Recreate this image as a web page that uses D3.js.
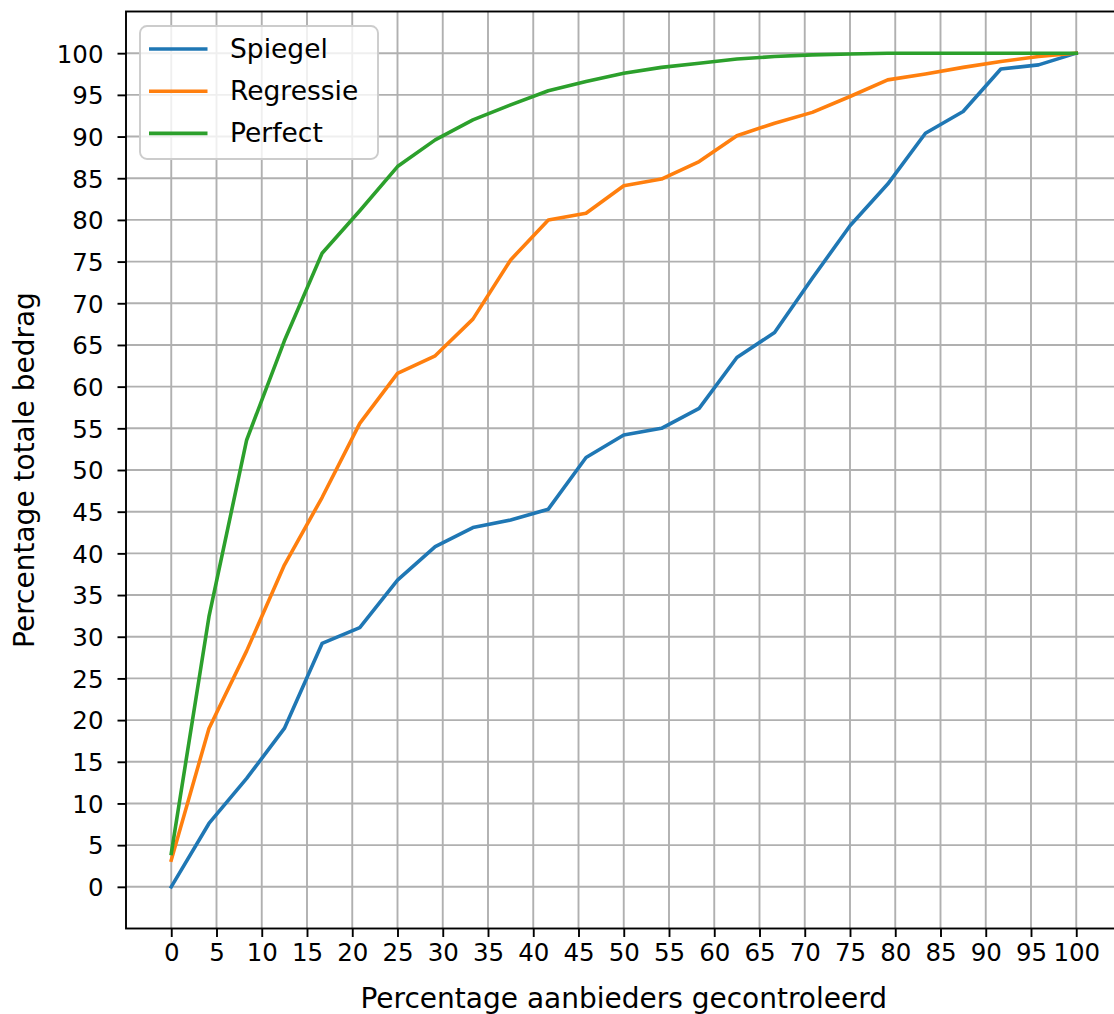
<!DOCTYPE html>
<html>
<head>
<meta charset="utf-8">
<script src="https://cdn.jsdelivr.net/npm/d3@7"></script>
<style>
  html, body { margin: 0; padding: 0; background: #fff; }
  svg { display: block; }
  text { font-family: "DejaVu Sans", sans-serif; fill: #000; }
</style>
</head>
<body>
<svg id="chart" width="1114" height="1014"></svg>
<script>
// ---- data ----
const xValues = d3.range(25).map(i => i * 100 / 24); // 25 points 0..100
const spiegel = [0, 7.6, 13.0, 19.0, 29.2, 31.1, 36.8, 40.8, 43.1, 44.0, 45.3, 51.5, 54.2, 55.0, 57.4, 63.5, 66.5, 73.0, 79.3, 84.3, 90.4, 93.0, 98.1, 98.6, 100];
const regressie = [3.2, 19.0, 28.3, 38.6, 46.7, 55.6, 61.6, 63.7, 68.1, 75.2, 80.0, 80.8, 84.1, 84.9, 87.0, 90.1, 91.6, 92.9, 94.8, 96.8, 97.5, 98.3, 99.0, 99.6, 100];
const perfect = [4.0, 32.4, 53.6, 65.5, 76.0, 81.1, 86.4, 89.6, 92.0, 93.8, 95.5, 96.6, 97.6, 98.3, 98.8, 99.3, 99.6, 99.8, 99.9, 100, 100, 100, 100, 100, 100];
const seriesNames = ["Spiegel", "Regressie", "Perfect"];
const seriesColors = ["#1f77b4", "#ff7f0e", "#2ca02c"];
const xTicks = d3.range(0, 101, 5);
const yTicks = d3.range(0, 101, 5);
const xLabel = "Percentage aanbieders gecontroleerd";
const yLabel = "Percentage totale bedrag";

// ---- layout ----
const svg = d3.select("#chart");
const x = d3.scaleLinear().domain([-5, 105]).range([126, 1121.5]);
const y = d3.scaleLinear().domain([-5, 105]).range([928.5, 11.5]);
const gridColor = "#b0b0b0";
const thin = 1.9;

// grid
const grid = svg.append("g");
grid.selectAll(".vg").data(xTicks).enter().append("line")
  .attr("x1", d => x(d)).attr("x2", d => x(d))
  .attr("y1", y(-5)).attr("y2", y(105))
  .attr("stroke", gridColor).attr("stroke-width", thin);
grid.selectAll(".hg").data(yTicks).enter().append("line")
  .attr("x1", x(-5)).attr("x2", x(105))
  .attr("y1", d => y(d)).attr("y2", d => y(d))
  .attr("stroke", gridColor).attr("stroke-width", thin);

// lines
const seriesData = [spiegel, regressie, perfect];
const line = d3.line().x((d, i) => x(xValues[i])).y(d => y(d));
seriesData.forEach((s, k) => {
  svg.append("path").datum(s)
    .attr("d", line)
    .attr("fill", "none")
    .attr("stroke", seriesColors[k])
    .attr("stroke-width", 3.6)
    .attr("stroke-linejoin", "round")
    .attr("stroke-linecap", "square");
});

// axes
const xAxis = d3.axisBottom(x).tickValues(xTicks).tickSize(8.5).tickPadding(7).tickFormat(d3.format("d"));
const yAxis = d3.axisLeft(y).tickValues(yTicks).tickSize(8.5).tickPadding(7).tickFormat(d3.format("d"));
const gx = svg.append("g").attr("transform", `translate(0,${y(-5)})`).call(xAxis);
const gy = svg.append("g").attr("transform", `translate(${x(-5)},0)`).call(yAxis);
[gx, gy].forEach(g => {
  g.select(".domain").remove();
  g.selectAll(".tick line").attr("stroke", "#000").attr("stroke-width", thin);
  g.selectAll(".tick text").style("font-family", "DejaVu Sans").style("font-size", "24.5px").attr("fill", "#000");
});
gx.selectAll(".tick text").attr("dy", "0.71em");
gy.selectAll(".tick text").attr("dy", "0.36em").attr("x", -22.5);

// spines
const spines = svg.append("g").attr("stroke", "#000").attr("stroke-width", thin).attr("fill", "none");
spines.append("rect")
  .attr("x", x(-5)).attr("y", y(105))
  .attr("width", x(105) - x(-5)).attr("height", y(-5) - y(105));

// axis labels
svg.append("text")
  .attr("x", (x(-5) + x(105)) / 2 - 0).attr("y", 1008)
  .attr("text-anchor", "middle")
  .style("font-size", "28px")
  .text(xLabel);
svg.append("text")
  .attr("transform", `translate(33.5,${(y(-5) + y(105)) / 2}) rotate(-90)`)
  .attr("text-anchor", "middle")
  .style("font-size", "28px")
  .text(yLabel);

// legend
const lg = svg.append("g");
lg.append("rect")
  .attr("x", 140).attr("y", 26).attr("width", 238).attr("height", 133)
  .attr("rx", 7).attr("ry", 7)
  .attr("fill", "#fff").attr("fill-opacity", 0.8)
  .attr("stroke", "#cccccc").attr("stroke-width", 1.9);
seriesNames.forEach((name, k) => {
  const ly = 49 + k * 42.2;
  lg.append("line").attr("x1", 149).attr("x2", 207.5).attr("y1", ly).attr("y2", ly)
    .attr("stroke", seriesColors[k]).attr("stroke-width", 3.6);
  lg.append("text").attr("x", 230).attr("y", ly + 8.5)
    .style("font-size", "26.5px").text(name);
});
</script>
</body>
</html>
